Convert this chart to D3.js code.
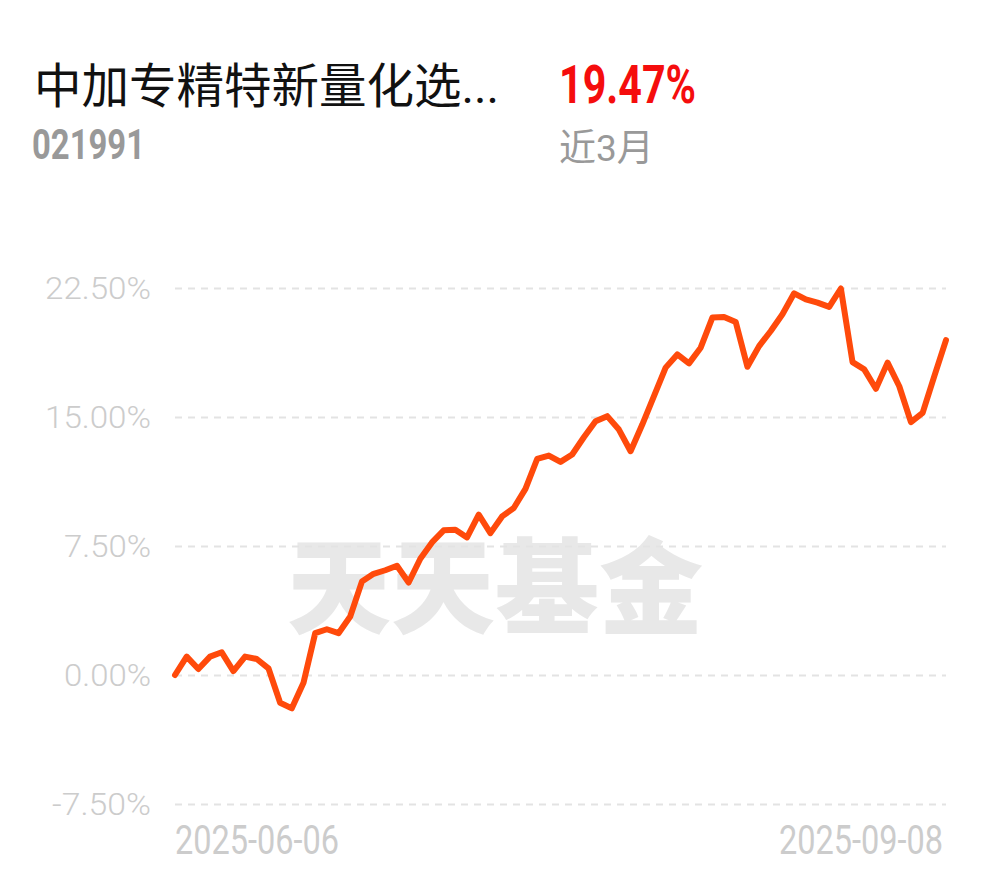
<!DOCTYPE html>
<html>
<head>
<meta charset="utf-8">
<script src="https://cdn.jsdelivr.net/npm/d3@7/dist/d3.min.js"></script>
<style>
html,body{margin:0;padding:0;background:#fff;}
svg{display:block;}
text{font-family:Roboto,"Noto Sans CJK SC",sans-serif;}
</style>
</head>
<body>
<svg id="chart" width="990" height="878"></svg>
<script>
const fundName = "中加专精特新量化选...";
const fundCode = "021991";
const periodReturn = "19.47%";
const periodLabel = "近3月";
const watermark = "天天基金";

const dates = [
"2025-06-06","2025-06-09","2025-06-10","2025-06-11","2025-06-12","2025-06-13",
"2025-06-16","2025-06-17","2025-06-18","2025-06-19","2025-06-20",
"2025-06-23","2025-06-24","2025-06-25","2025-06-26","2025-06-27","2025-06-30",
"2025-07-01","2025-07-02","2025-07-03","2025-07-04",
"2025-07-07","2025-07-08","2025-07-09","2025-07-10","2025-07-11",
"2025-07-14","2025-07-15","2025-07-16","2025-07-17","2025-07-18",
"2025-07-21","2025-07-22","2025-07-23","2025-07-24","2025-07-25",
"2025-07-28","2025-07-29","2025-07-30","2025-07-31","2025-08-01",
"2025-08-04","2025-08-05","2025-08-06","2025-08-07","2025-08-08",
"2025-08-11","2025-08-12","2025-08-13","2025-08-14","2025-08-15",
"2025-08-18","2025-08-19","2025-08-20","2025-08-21","2025-08-22",
"2025-08-25","2025-08-26","2025-08-27","2025-08-28","2025-08-29",
"2025-09-01","2025-09-02","2025-09-03","2025-09-04","2025-09-05","2025-09-08"
];
const returns = [
0.00, 1.07, 0.35, 1.07, 1.32, 0.23, 1.07, 0.93, 0.39, -1.61, -1.94,
-0.45, 2.43, 2.66, 2.43, 3.40, 5.43, 5.88, 6.09, 6.35, 5.38,
6.76, 7.71, 8.41, 8.45, 8.00, 9.32, 8.25, 9.22, 9.71, 10.82,
12.56, 12.76, 12.39, 12.82, 13.82, 14.75, 15.05, 14.27, 13.01, 14.56,
16.21, 17.87, 18.64, 18.12, 19.03, 20.78, 20.81, 20.52, 17.92, 19.12,
20.00, 20.97, 22.19, 21.84, 21.65, 21.40, 22.47, 18.19, 17.77, 16.64,
18.16, 16.79, 14.70, 15.24, 17.38, 19.47
];
const yTicks = [-7.5, 0, 7.5, 15, 22.5];
const xTickLabels = ["2025-06-06", "2025-09-08"];

const svg = d3.select("#chart");
const plotLeft = 175, plotRight = 946, plotTop = 288, plotBottom = 804;

const x = d3.scalePoint().domain(dates).range([plotLeft, plotRight]);
const y = d3.scaleLinear().domain([-7.5, 22.5]).range([plotBottom, plotTop]);

// Header
svg.append("text").attr("x", 34).attr("y", 103)
  .attr("font-family", "'Noto Sans CJK SC'").attr("font-size", 47.5).attr("fill", "#111")
  .text(fundName);
svg.append("text").attr("x", 32).attr("y", 159)
  .attr("font-size", 42).attr("font-weight", "bold").attr("fill", "#999")
  .attr("textLength", 113).attr("lengthAdjust", "spacingAndGlyphs")
  .text(fundCode);
svg.append("text").attr("x", 559).attr("y", 103)
  .attr("font-size", 53).attr("font-weight", "bold").attr("fill", "#f50d0d")
  .attr("textLength", 137).attr("lengthAdjust", "spacingAndGlyphs")
  .text(periodReturn);
svg.append("text").attr("x", 559).attr("y", 161)
  .attr("font-family", "'Noto Sans CJK SC'").attr("font-size", 37).attr("fill", "#999")
  .text(periodLabel);

// Watermark
svg.append("text").attr("x", (285 + 705) / 2).attr("y", 626)
  .attr("text-anchor", "middle")
  .attr("font-family", "'Noto Sans CJK SC'").attr("font-weight", 900)
  .attr("font-size", 104).attr("fill", "#e8e8e8")
  .text(watermark);

// Grid + y labels
const yAxis = d3.axisLeft(y).tickValues(yTicks)
  .tickFormat(d => d.toFixed(2) + "%")
  .tickSize(-(plotRight - plotLeft)).tickPadding(24);
const gy = svg.append("g").attr("transform", `translate(${plotLeft},0)`).call(yAxis);
gy.select(".domain").remove();
gy.selectAll(".tick line").attr("stroke", "#e3e3e3").attr("stroke-width", 2)
  .attr("stroke-dasharray", "7,6");
gy.selectAll(".tick text").attr("fill", "#cccccc").attr("font-size", 31)
  .attr("font-family", "Roboto").attr("font-weight", 300).attr("dy", "0.33em")
  .attr("textLength", d => d < 0 ? 99 : (d >= 10 ? 106 : 87))
  .attr("lengthAdjust", "spacingAndGlyphs");

// x labels
const gx = svg.append("g");
gx.selectAll("text").data(xTickLabels).join("text")
  .attr("x", (d, i) => i === 0 ? x(d) : x(d) - 3)
  .attr("y", 854)
  .attr("text-anchor", (d, i) => i === 0 ? "start" : "end")
  .attr("font-size", 40).attr("fill", "#cccccc")
  .attr("textLength", 164).attr("lengthAdjust", "spacingAndGlyphs")
  .text(d => d);

// Line
const line = d3.line().x((d, i) => x(dates[i])).y(d => y(d));
svg.append("path").datum(returns)
  .attr("d", line)
  .attr("fill", "none").attr("stroke", "#ff4a0b").attr("stroke-width", 6)
  .attr("stroke-linejoin", "round").attr("stroke-linecap", "round");
</script>
</body>
</html>
